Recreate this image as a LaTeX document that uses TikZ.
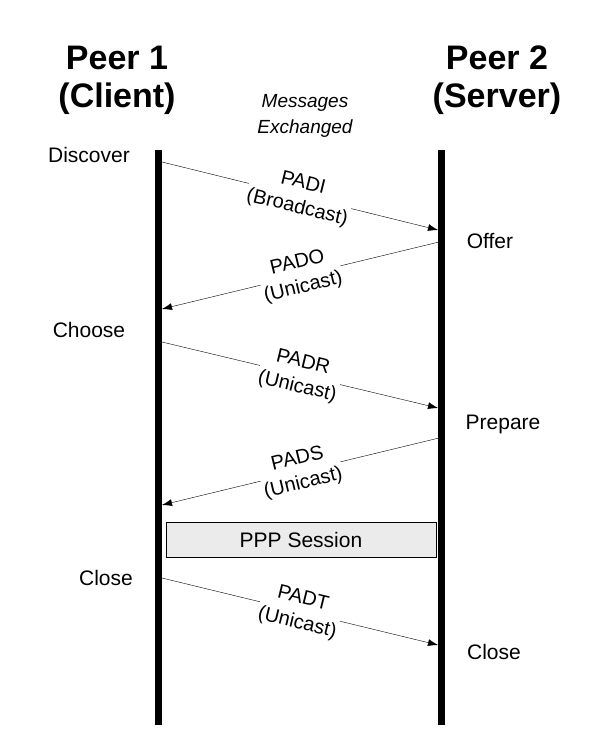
\documentclass[tikz,border=0pt]{standalone}
\usepackage{fontspec}
\setmainfont{Liberation Sans}
\usetikzlibrary{arrows.meta,positioning}
\begin{document}
\begin{tikzpicture}[x=1pt,y=-1pt]
     \tikzstyle{head_style} = [font=\fontsize{34}{38}\selectfont\bfseries,align=center]
     \tikzstyle{step_style} = [font=\fontsize{21}{24}\selectfont]
     \tikzstyle{msg_style} = [draw=black,-{Latex[length=10pt,width=7pt]}]
     \tikzstyle{lbl_style} = [font=\fontsize{20}{25}\selectfont,align=center,fill=white,inner sep=1pt,sloped,midway]
     \useasboundingbox (0,0) rectangle (604,747);
     \node[head_style] (p1) at (117,80) {Peer 1\\(Client)};
     \node[head_style] (p2) at (497,80) {Peer 2\\(Server)};
     \node[step_style,font=\fontsize{19}{26}\selectfont\itshape,align=center] (msg) at (305,116) {Messages\\Exchanged};
     \coordinate (t1) at (158,150); \coordinate (b1) at (158,725);
     \coordinate (t2) at (441,150); \coordinate (b2) at (441,725);
     \draw[line width=7pt] (t1) -- (b1);
     \draw[line width=7pt] (t2) -- (b2);
     \node[step_style] (disc) at (89,155) {Discover};
     \node[step_style] (offer) at (490,241) {Offer};
     \node[step_style] (choose) at (89,330) {Choose};
     \node[step_style] (prep) at (503,424) {Prepare};
     \node[step_style] (close1) at (106,578) {Close};
     \node[step_style] (close2) at (494,652) {Close};
     \coordinate (a1) at (162,162); \coordinate (a2) at (438,230);
     \coordinate (o1) at (439,242); \coordinate (o2) at (162,309);
     \coordinate (r1) at (162,342); \coordinate (r2) at (438,408);
     \coordinate (s1) at (439,438); \coordinate (s2) at (162,505);
     \coordinate (d1) at (162,578); \coordinate (d2) at (438,645);
     \draw[msg_style] (a1) -- node[lbl_style] {PADI\\(Broadcast)} (a2);
     \draw[msg_style] (o1) -- node[lbl_style] {PADO\\(Unicast)} (o2);
     \draw[msg_style] (r1) -- node[lbl_style] {PADR\\(Unicast)} (r2);
     \draw[msg_style] (s1) -- node[lbl_style] {PADS\\(Unicast)} (s2);
     \draw[msg_style] (d1) -- node[lbl_style] {PADT\\(Unicast)} (d2);
     \node[draw=black,fill=black!8,minimum width=270pt,minimum height=35pt,step_style] (ppp) at (301,539.5) {PPP Session};
\end{tikzpicture}
\end{document}
